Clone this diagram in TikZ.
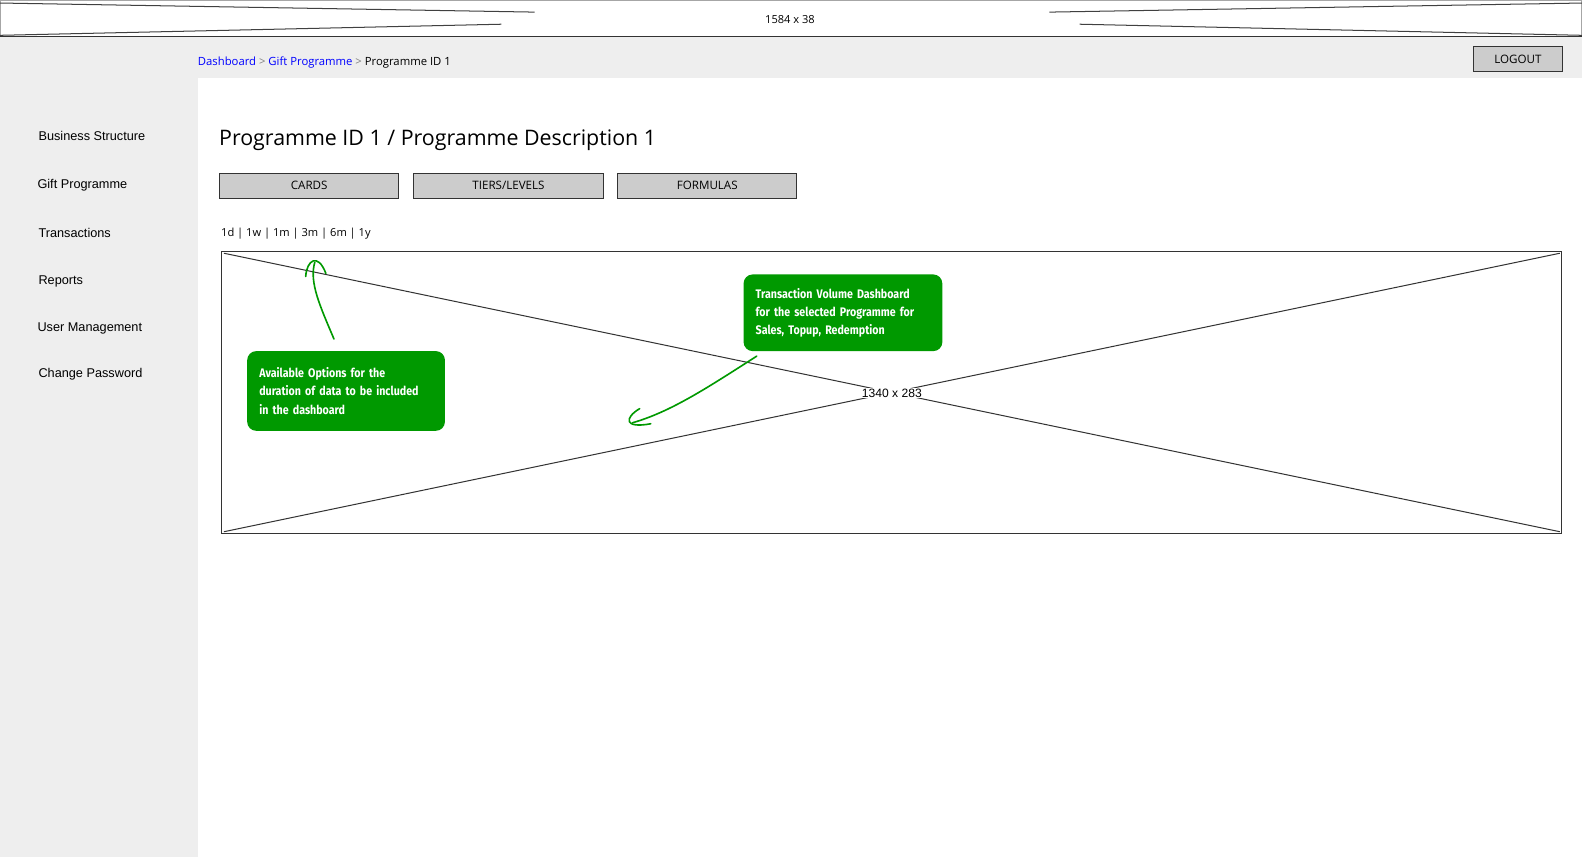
\documentclass[tikz,border=0pt]{standalone}
\usepackage{fontspec}
\setmainfont{Liberation Sans}
\newfontfamily\sketchfont{Open Sans}
\newfontfamily\notefont[FakeStretch=0.86]{Fira Sans}
\usetikzlibrary{positioning}
\tikzset{
  menuitem/.style={anchor=west, inner sep=0pt, font=\fontsize{12.6}{14}\selectfont},
  tabbutton/.style={draw=black!80, fill=black!20, line width=1pt, minimum width=177pt,
    minimum height=25pt, inner sep=0pt, font=\sketchfont\fontsize{11.5}{13}\selectfont},
  notebox/.style={fill=notegreen, rounded corners=9pt, text=white, align=left,
    inner sep=0pt, font=\notefont\bfseries\fontsize{12.3}{18}\selectfont},
  notearrow/.style={draw=notegreen, line width=1.6pt, line cap=round, line join=round}
}
\begin{document}
\begin{tikzpicture}[x=1pt, y=-1pt]
\definecolor{panelgray}{HTML}{EEEEEE}
\definecolor{notegreen}{HTML}{009900}
\definecolor{linkblue}{HTML}{0000FF}
\useasboundingbox (0,0) rectangle (1568,849);
% page background
\fill[panelgray] (0,37) rectangle (1568,849);
\fill[white] (196,77) rectangle (1568,849);
% top banner placeholder
\draw[black!35, fill=white] (0.5,0.5) rectangle (1567.5,36);
\draw[black!80, line width=1.2pt] (0,36) -- (1568,36);
\draw[black!75, line width=1pt] (0,3) -- (530,12) (0,35) -- (497,24)
  (1040,12) -- (1568,3) (1070,24) -- (1568,35);
\node[font=\sketchfont\fontsize{11}{13}\selectfont] (bannersize) at (783,19) {1584 x 38};
% breadcrumb and logout
\node[anchor=west, inner sep=0pt, font=\sketchfont\fontsize{11.2}{12}\selectfont] (crumbs) at (196,62)
  {\textcolor{linkblue}{Dashboard} \textcolor{black!50}{>} \textcolor{linkblue}{Gift Programme} \textcolor{black!50}{>} Programme ID 1};
\node[tabbutton, minimum width=89pt, minimum height=24pt] (logout) at (1504.5,58.5) {LOGOUT};
% side menu
\node[menuitem] (business) at (38,135) {Business Structure};
\node[menuitem] (gift) at (37,183.5) {Gift Programme};
\node[menuitem] (transactions) at (38,231) {Transactions};
\node[menuitem] (reports) at (38,278.5) {Reports};
\node[menuitem] (users) at (37,325.5) {User Management};
\node[menuitem] (password) at (38,371) {Change Password};
% title and tabs
\node[anchor=west, inner sep=0pt, font=\sketchfont\fontsize{21.2}{24}\selectfont] (title) at (217,138.5)
  {Programme ID 1 / Programme Description 1};
\node[tabbutton] (cards) at (306.5,184) {CARDS};
\node[tabbutton, minimum width=188pt] (tiers) at (504,184) {TIERS/LEVELS};
\node[tabbutton] (formulas) at (701,184) {FORMULAS};
\node[anchor=west, inner sep=0pt, font=\sketchfont\fontsize{11}{13}\selectfont] (ranges) at (219,231.5)
  {1d | 1w | 1m | 3m | 6m | 1y};
% chart placeholder
\draw[black!80, line width=1pt] (220,249) rectangle (1548,529);
\draw[black!80, line width=1pt] (222,251) -- (1546,527) (222,527) -- (1546,251);
\node[fill=white, inner sep=1pt, font=\fontsize{12}{14}\selectfont] (chartsize) at (884,389.5) {1340 x 283};
% callouts
\node[notebox, minimum width=196pt, minimum height=79pt, text width=172pt] (optnote) at (343,387.5)
  {Available Options for the\\duration of data to be included\\in the dashboard};
\node[notebox, minimum width=197pt, minimum height=76pt, text width=173pt] (volnote) at (835.5,310)
  {Transaction Volume Dashboard\\for the selected Programme for\\Sales, Topup, Redemption};
\coordinate (opttail) at (331,336);
\coordinate (opthead) at (312,260);
\coordinate (voltail) at (750,353);
\coordinate (volhead) at (627,419);
\draw[notearrow] (opttail) .. controls (318,305) and (306,280) .. (opthead);
\draw[notearrow] (303,274) .. controls (304,258) and (315,250) .. (323,271);
\draw[notearrow] (voltail) .. controls (700,385) and (665,408) .. (volhead);
\draw[notearrow] (634,405) .. controls (619,414) and (618,425) .. (645,420);
\end{tikzpicture}
\end{document}
